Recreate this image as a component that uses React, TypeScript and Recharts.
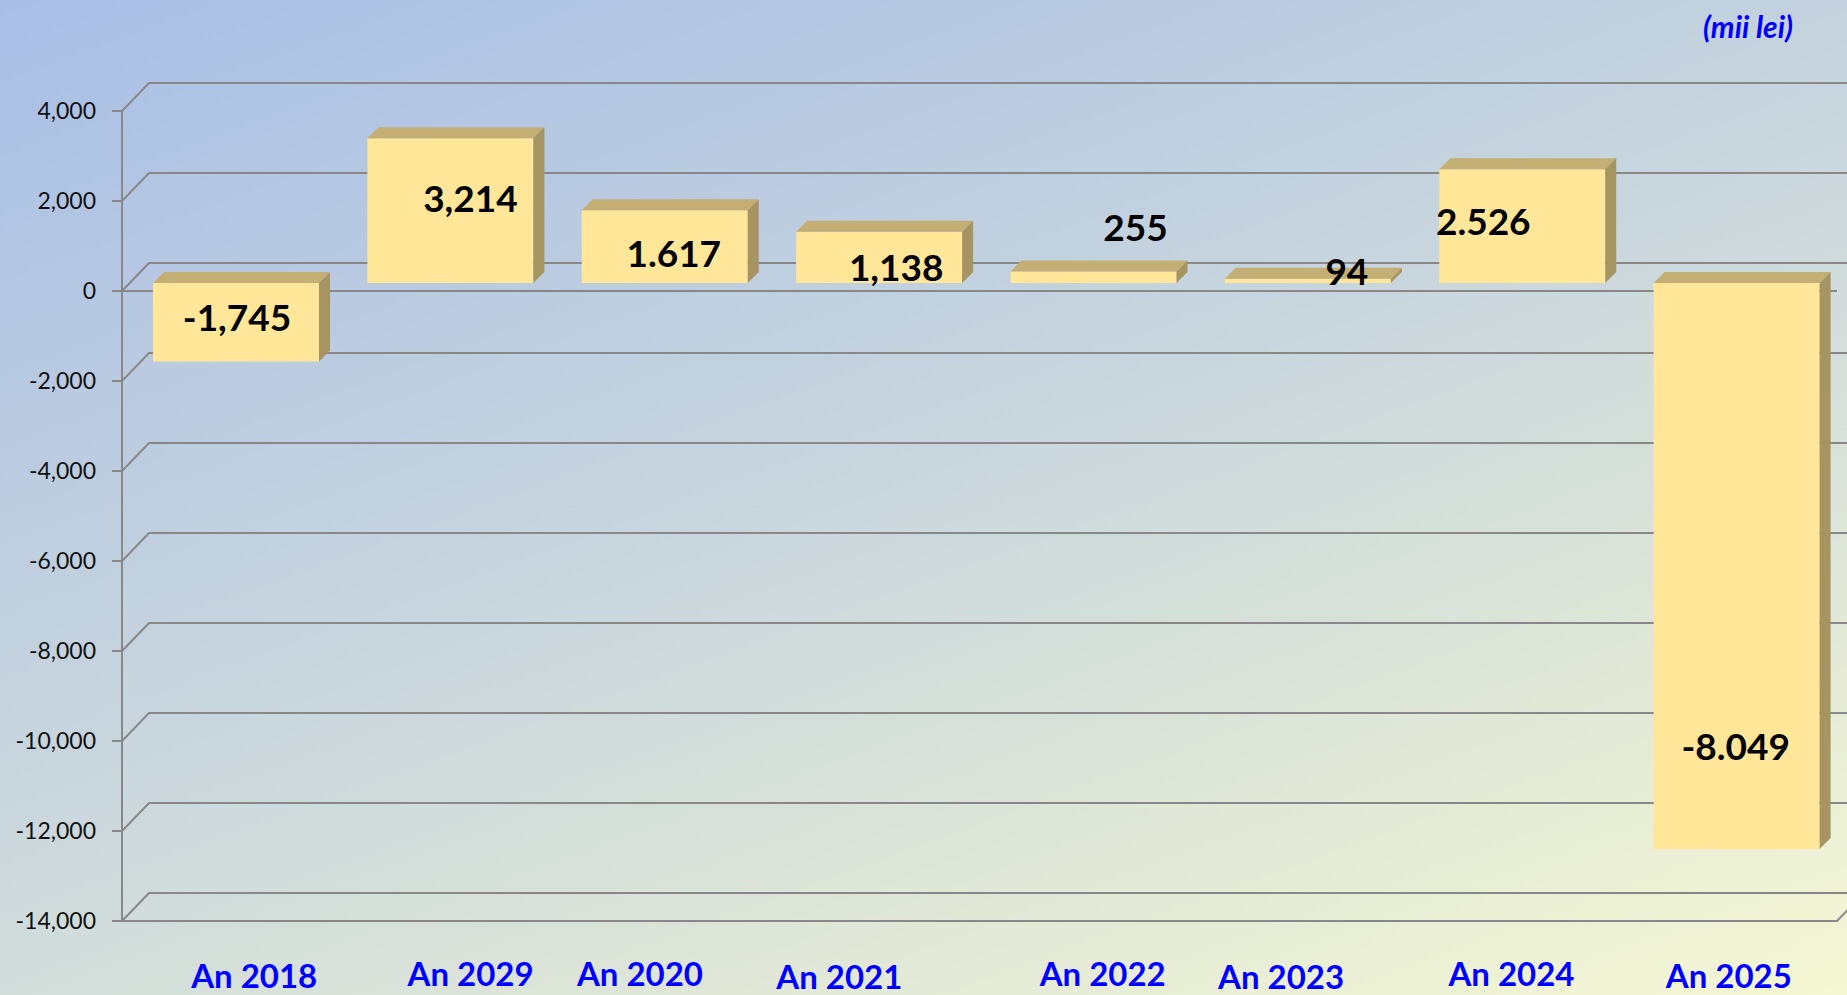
import { BarChart, Bar, XAxis, YAxis, CartesianGrid, LabelList } from "recharts";

// date
const categories = ["An 2018", "An 2029", "An 2020", "An 2021", "An 2022", "An 2023", "An 2024", "An 2025"];
const values = [-1745, 3214, 1617, 1138, 255, 94, 2526, -12580];
const valueLabels = ["-1,745", "3,214", "1.617", "1,138", "255", "94", "2.526", "-8.049"];
const yTicks = [-14000, -12000, -10000, -8000, -6000, -4000, -2000, 0, 2000, 4000];

const data = categories.map((cat, i) => ({ cat, value: values[i], label: valueLabels[i] }));

const Y_MIN = -14000;
const Y_MAX = 4000;

// aspect 3D
const WALL_DX = 27;
const WALL_DY = 28;
const BAR_SHIFT_X = 7;
const BAR_SHIFT_Y = 8;
const BAR_DEPTH = 11;
const GRID = "#888888";
const FRONT = "#ffe699";
const TOP = "#c3af74";
const SIDE = "#a69563";

// etichetele sunt mutate manual in original
const labelNudge = [[1, -6], [20, -13], [9, 6], [17, 9], [42, -51], [39, -10], [-39, -6], [-1, 179]];
const tickNudge = [[25, 0], [27, -2], [-18, -2], [-33, 1], [16, -2], [-20, 1], [-4, -2], [-1, 0]];

function Box3D(props: any) {
  const { x, y, width, height } = props;
  const h = Math.abs(height);
  const top = Math.min(y, y + height) - BAR_SHIFT_Y;
  const left = x + BAR_SHIFT_X;
  const right = left + width;
  const bottom = top + h;
  const d = BAR_DEPTH;
  return (
    <g>
      <rect x={left} y={top} width={width} height={h} fill={FRONT} />
      <polygon points={`${left},${top} ${left + d},${top - d} ${right + d},${top - d} ${right},${top}`} fill={TOP} />
      <polygon points={`${right},${top} ${right + d},${top - d} ${right + d},${bottom - d} ${right},${bottom}`} fill={SIDE} />
    </g>
  );
}

function ValueLabel(props: any) {
  const vb = props.viewBox ?? props;
  const x = vb.x ?? props.x;
  const y = vb.y ?? props.y;
  const width = vb.width ?? props.width;
  const height = vb.height ?? props.height;
  const i = props.index ?? 0;
  const n = labelNudge[i] ?? [0, 0];
  const cx = x + BAR_SHIFT_X + width / 2 + n[0];
  const cy = Math.min(y, y + height) - BAR_SHIFT_Y + Math.abs(height) / 2 + n[1];
  return (
    <text x={cx} y={cy} textAnchor="middle" dominantBaseline="central" fontFamily="Lato" fontWeight={700} fontSize={37} fill="#000">
      {props.value}
    </text>
  );
}

function CatTick(props: any) {
  const { x, y, payload } = props;
  const i = payload?.index ?? props.index ?? 0;
  const n = tickNudge[i] ?? [0, 0];
  return (
    <text x={x + n[0]} y={y + 46 + n[1]} textAnchor="middle" dominantBaseline="central" fontFamily="Lato" fontWeight={700} fontSize={33} fill="#0000ff">
      {payload.value}
    </text>
  );
}

function wallLine(p: any) {
  const { x1, y1, x2, y, height } = p;
  const bottomY = y + height;
  const zeroY = y + (height * Y_MAX) / (Y_MAX - Y_MIN);
  return (
    <g key={p.key}>
      <polyline points={`${x1},${y1} ${x1 + WALL_DX},${y1 - WALL_DY} ${x2 + WALL_DX},${y1 - WALL_DY}`} fill="none" stroke={GRID} strokeWidth={2} />
      {Math.abs(y1 - bottomY) < 1 && (
        <polyline points={`${x1},${y1} ${x2},${y1} ${x2 + WALL_DX},${y1 - WALL_DY}`} fill="none" stroke={GRID} strokeWidth={2} />
      )}
      {Math.abs(y1 - zeroY) < 1 && <line x1={x1} y1={y1} x2={x2} y2={y1} stroke={GRID} strokeWidth={2} />}
    </g>
  );
}

export default function App() {
  return (
    <div
      style={{
        position: "absolute",
        left: 0,
        top: 0,
        width: 1847,
        height: 995,
        overflow: "hidden",
        fontFamily: "Lato",
        background: "linear-gradient(160deg, #a8bee6 0%, #c9d6dd 48%, #f5f7d3 100%)",
      }}
    >
      <div
        style={{
          position: "absolute",
          right: 54,
          top: 10,
          height: 32,
          lineHeight: "32px",
          fontSize: 30,
          fontWeight: 700,
          fontStyle: "italic",
          color: "#0000ff",
        }}
      >
        (mii lei)
      </div>
      <BarChart width={1847} height={995} data={data} margin={{ top: 111, right: 10, bottom: 14, left: 22 }} barSize={166}>
        <CartesianGrid vertical={false} horizontal={wallLine} />
        <XAxis dataKey="cat" axisLine={false} tickLine={false} height={60} interval={0} tick={<CatTick />} />
        <YAxis
          width={100}
          domain={[Y_MIN, Y_MAX]}
          ticks={yTicks}
          interval={0}
          tickSize={10}
          tickMargin={16}
          axisLine={{ stroke: GRID, strokeWidth: 2 }}
          tickLine={{ stroke: GRID, strokeWidth: 2 }}
          tick={{ fill: "#111", fontSize: 23, fontFamily: "Lato" }}
          tickFormatter={(v: number) => v.toLocaleString("en-US")}
        />
        <Bar dataKey="value" shape={<Box3D />} isAnimationActive={false}>
          <LabelList dataKey="label" content={<ValueLabel />} />
        </Bar>
      </BarChart>
    </div>
  );
}
